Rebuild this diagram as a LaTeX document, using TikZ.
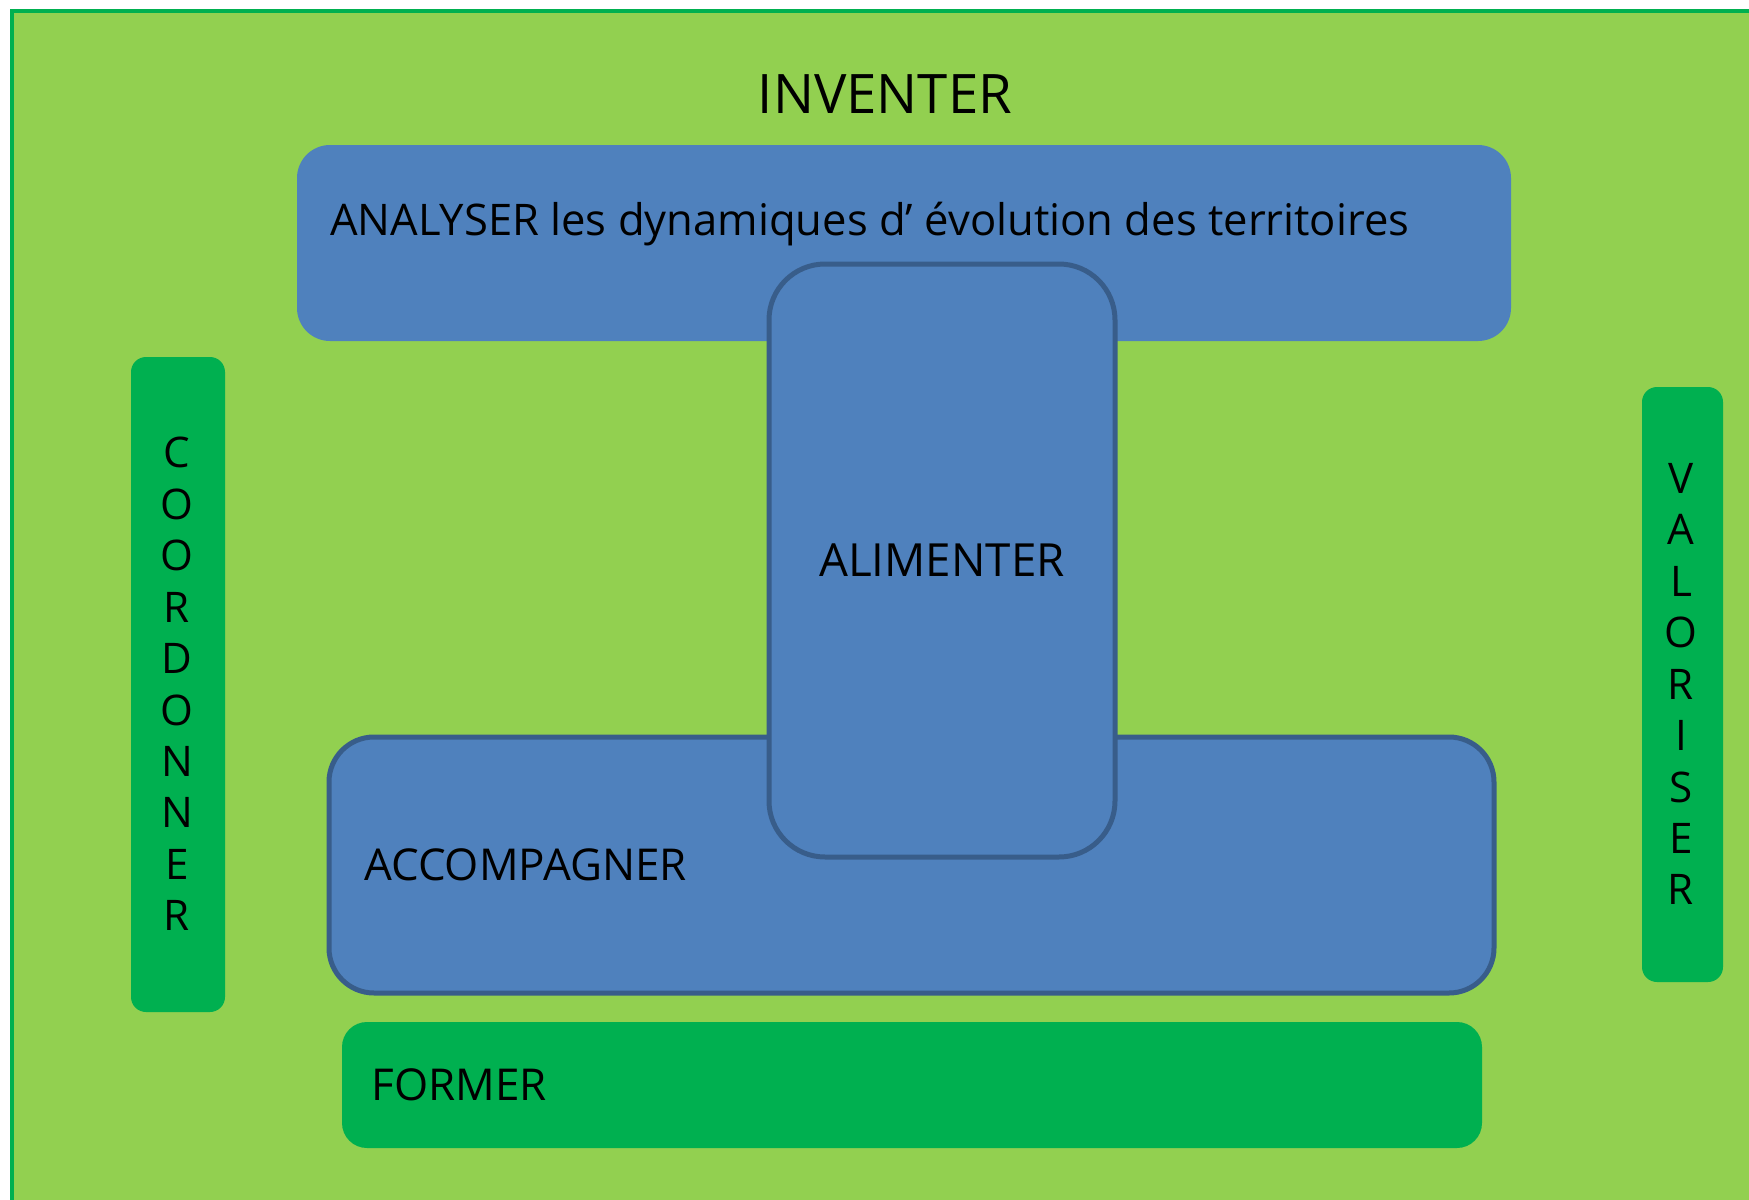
\documentclass[tikz,border=0pt]{standalone}
\usepackage{fontspec}
\setmainfont{Open Sans}
\usetikzlibrary{fit}
\definecolor{bglight}{HTML}{92D050}
\definecolor{bgdark}{HTML}{00B050}
\definecolor{boxblue}{HTML}{4F81BD}
\definecolor{boxline}{HTML}{385D8A}
\tikzset{
  bluebox/.style={fill=boxblue, inner sep=0pt},
  blueframed/.style={fill=boxblue, draw=boxline, line width=0.1cm, inner sep=0pt},
  greenbox/.style={fill=bgdark, inner sep=0pt},
  lbl/.style={inner sep=0pt, font=\fontsize{25}{30}\selectfont},
  vlbl/.style={inner sep=0pt, align=center, font=\fontsize{24}{29.3}\selectfont},
}
\begin{document}
\begin{tikzpicture}[x=0.02cm,y=-0.02cm]
\useasboundingbox (0,0) rectangle (1749,1200);
\clip (0,0) rectangle (1749,1200);
\draw[fill=bglight, draw=bgdark, line width=0.09cm] (12,11) rectangle (1800,1260);
% boxes
\node[bluebox, rounded corners=0.66cm, fit={(297,145)(1511,341)}] (analyser) {};
\node[blueframed, rounded corners=0.9cm, fit={(329,737)(1494,993)}] (accomp) {};
\node[blueframed, rounded corners=1.12cm, fit={(769,264)(1115,857)}] (alim) {};
\node[greenbox, rounded corners=0.5cm, fit={(342,1022)(1482,1148)}] (former) {};
\node[greenbox, rounded corners=0.3cm, fit={(131,357)(225,1012)}] (coord) {};
\node[greenbox, rounded corners=0.3cm, fit={(1642,387)(1723,982)}] (valor) {};
% labels
\node[inner sep=0pt, font=\fontsize{31}{36}\selectfont] (inventer) at (885,94) {INVENTER};
\node[lbl, anchor=base west, font=\fontsize{24.8}{30}\selectfont] (analysertxt) at (330,235) {ANALYSER les dynamiques d’ évolution des territoires};
\node[lbl, font=\fontsize{26}{30}\selectfont] (alimtxt) at (942,560) {ALIMENTER};
\node[lbl, anchor=west] (accomptxt) at (364,865) {ACCOMPAGNER};
\node[lbl, anchor=west] (formertxt) at (371,1085) {FORMER};
\node[vlbl] (coordtxt) at (177,684) {C\\O\\O\\R\\D\\O\\N\\N\\E\\R};
\node[vlbl] (valortxt) at (1681,684) {V\\A\\L\\O\\R\\I\\S\\E\\R};
\end{tikzpicture}
\end{document}
